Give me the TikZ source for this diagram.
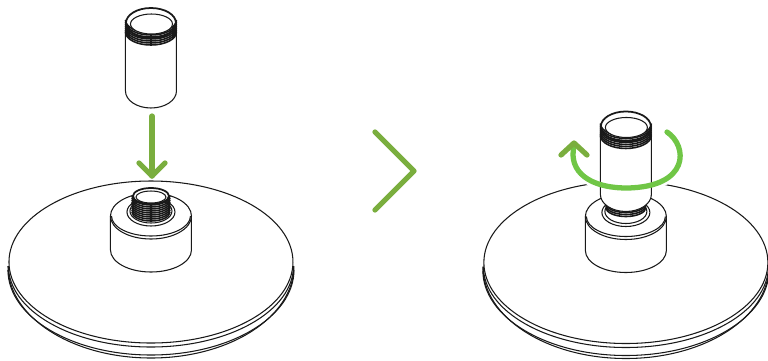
\documentclass[tikz,border=0pt]{standalone}
\usepackage{xcolor}
\definecolor{leafgreen}{RGB}{122,174,62}
\definecolor{swirlgreen}{RGB}{112,198,70}
\definecolor{inkline}{RGB}{25,25,25}
\usetikzlibrary{arrows.meta,calc}
% disc with hub, origin on the axis of the part
\newcommand{\basedisc}{
  \draw[ink,fill=white] (-143,266) arc [start angle=180,end angle=0,x radius=143,y radius=92];
  \draw[ink] (-143,270) arc [start angle=180,end angle=0,x radius=143,y radius=85];
  \draw[ink] (-142.5,266) arc [start angle=180,end angle=0,x radius=142.5,y radius=81];
  \draw[ink,fill=white] (0,262) ellipse [x radius=142,y radius=81];
  \draw[ink,fill=white] (-40.5,216) -- (-40.5,250) arc [start angle=180,end angle=0,x radius=40.5,y radius=22] -- (40.5,216);
  \draw[ink,fill=white] (0,216) ellipse [x radius=40.5,y radius=23];
  \draw[ink] (-39.5,216) arc [start angle=180,end angle=0,x radius=39.5,y radius=20];
  \draw[ink] (0,212) ellipse [x radius=24,y radius=14];
  \draw[ink] (0,211) ellipse [x radius=21,y radius=12];
}
% threaded sleeve, top ellipse on y=0
\newcommand{\sleeve}{
  \draw[ink,fill=white] (-25.5,8) -- (-25.5,68) arc [start angle=180,end angle=0,x radius=25.5,y radius=17] -- (25.5,8) -- cycle;
  \draw[ink,line width=1pt,fill=white] (0,0) ellipse [x radius=25,y radius=15];
  \foreach \yy in {-3,-1,...,10}
    \draw[inkdense] (-25.5,\yy) arc [start angle=180,end angle=0,x radius=25.5,y radius=13];
  \draw[ink,fill=white] (0.5,1) ellipse [x radius=21,y radius=10];
}
\newcommand{\turnpath}{(turnstart) .. controls (688,146) and (690,187) .. (627,188) .. controls (590,188) and (568,172) .. (574,146)}
\begin{document}
\begin{tikzpicture}[x=0.02cm,y=-0.02cm]
  \tikzstyle{ink}=[draw=inkline,line width=0.6pt]
  \tikzstyle{inkdense}=[draw=inkline,line width=0.9pt]
  \tikzstyle{cue}=[draw=leafgreen,line width=3pt,line cap=round,line join=round]
  \useasboundingbox (0,0) rectangle (768,360);
  \coordinate (turnstart) at (667,132);
  \coordinate (turntip) at (574,143);
  \coordinate (turnleft) at (561,155);
  \coordinate (turnright) at (587,155);

  % left part
  \begin{scope}[xshift=3.02cm]
    \basedisc
    % short threaded stem
    \draw[ink,line width=1pt,fill=white] (0,196) ellipse [x radius=18,y radius=8];
    \foreach \yy in {196,198,...,213}
      \draw[inkdense] (-19,\yy) arc [start angle=180,end angle=0,x radius=19,y radius=9];
    \draw[ink,fill=white] (0,197) ellipse [x radius=15,y radius=6];
    \begin{scope}[yshift=-0.46cm]
      \sleeve
    \end{scope}
  \end{scope}
  \coordinate (dropstart) at (152,116);
  \coordinate (droptip) at (152,176);
  \coordinate (dropleft) at (139,163);
  \coordinate (dropright) at (165,163);
  \draw[cue] (dropstart) -- (droptip);
  \draw[cue] (dropleft) -- (droptip) -- (dropright);

  % chevron between the steps
  \coordinate (chevtop) at (375,132);
  \coordinate (chevtip) at (414,171);
  \coordinate (chevbot) at (375,210);
  \draw[cue] (chevtop) -- (chevtip) -- (chevbot);

  % right part
  \begin{scope}[xshift=12.52cm,yshift=-0.01cm]
    \basedisc
    \foreach \yy in {199,201,...,208}
      \draw[inkdense] (-20,\yy) arc [start angle=180,end angle=0,x radius=20,y radius=9];
  \end{scope}
  \draw[white,line width=6pt] \turnpath;
  \begin{scope}[xshift=12.52cm,yshift=-2.53cm]
    \sleeve
  \end{scope}
  \draw[draw=swirlgreen,line width=3pt,line cap=round] \turnpath;
  \draw[cue] (turnleft) -- (turntip) -- (turnright);
\end{tikzpicture}
\end{document}
